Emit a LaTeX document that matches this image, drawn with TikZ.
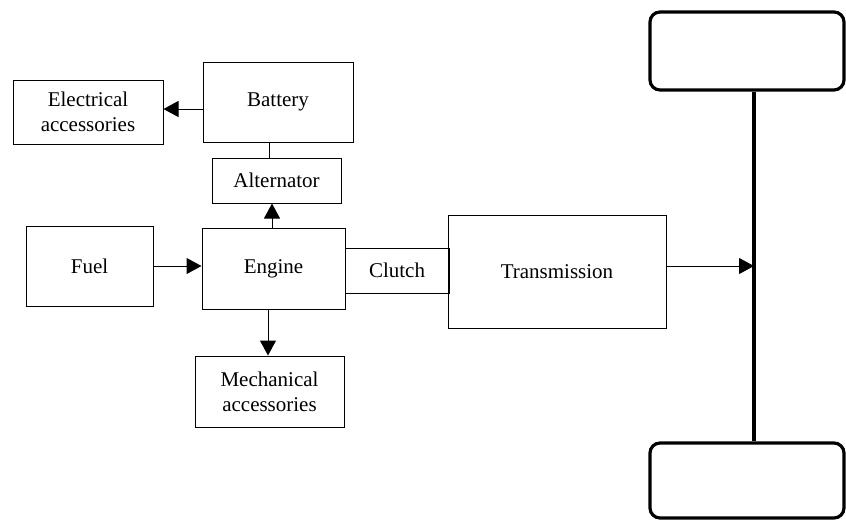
\documentclass[tikz,border=0pt]{standalone}
\usepackage{fontspec}
\setmainfont{Liberation Serif}
\usetikzlibrary{arrows.meta,positioning,calc}
\tikzset{
  block/.style={draw,thick,black,line width=0.5pt,rectangle,align=center,inner sep=1pt,font=\fontsize{10.5}{12.5}\selectfont},
  wheel/.style={draw,black,line width=1.6pt,rectangle,rounded corners=5pt},
  flow/.style={line width=0.5pt,-{Triangle[length=7.5pt,width=8pt]}}
}
\begin{document}
\begin{tikzpicture}[x=0.5pt,y=-0.5pt]
\useasboundingbox (0,0) rectangle (846,521);
\node[block,minimum width=75pt,minimum height=32pt] (elec) at (88,112) {Electrical\\accessories};
\node[block,minimum width=75pt,minimum height=40pt] (battery) at (278,102) {Battery};
\node[block,minimum width=64.5pt,minimum height=22.5pt] (alternator) at (276.5,180.5) {Alternator};
\node[block,minimum width=63.5pt,minimum height=40pt] (fuel) at (89.5,266) {Fuel};
\node[block,minimum width=71.5pt,minimum height=40.5pt] (engine) at (273.5,268.5) {Engine};
\node[block,minimum width=52pt,minimum height=22.5pt] (clutch) at (397,270.5) {Clutch};
\node[block,minimum width=109pt,minimum height=56.5pt] (trans) at (557,271.5) {Transmission};
\node[block,minimum width=74.5pt,minimum height=35.5pt] (mech) at (269.5,391.5) {Mechanical\\accessories};
\node[wheel,minimum width=97pt,minimum height=39pt] (topwheel) at (747,51) {};
\node[wheel,minimum width=97pt,minimum height=37.5pt] (botwheel) at (747,480.5) {};
\draw[line width=1.6pt] (topwheel.south -| 754,0) coordinate (axletop) -- (botwheel.north -| 754,0) coordinate (axlebot);
\draw[flow] (battery.west |- 0,109) -- (elec.east |- 0,109);
\draw[line width=0.5pt] (battery.south -| 269,0) -- (alternator.north -| 269,0);
\draw[flow] (engine.north -| 272,0) -- (alternator.south -| 272,0);
\draw[flow] (fuel.east |- 0,266) -- (engine.west |- 0,266);
\draw[flow] (engine.south -| 268,0) -- (mech.north -| 268,0);
\draw[flow] (trans.east |- 0,266) -- (axletop |- 0,266) coordinate (hub);
\end{tikzpicture}
\end{document}
